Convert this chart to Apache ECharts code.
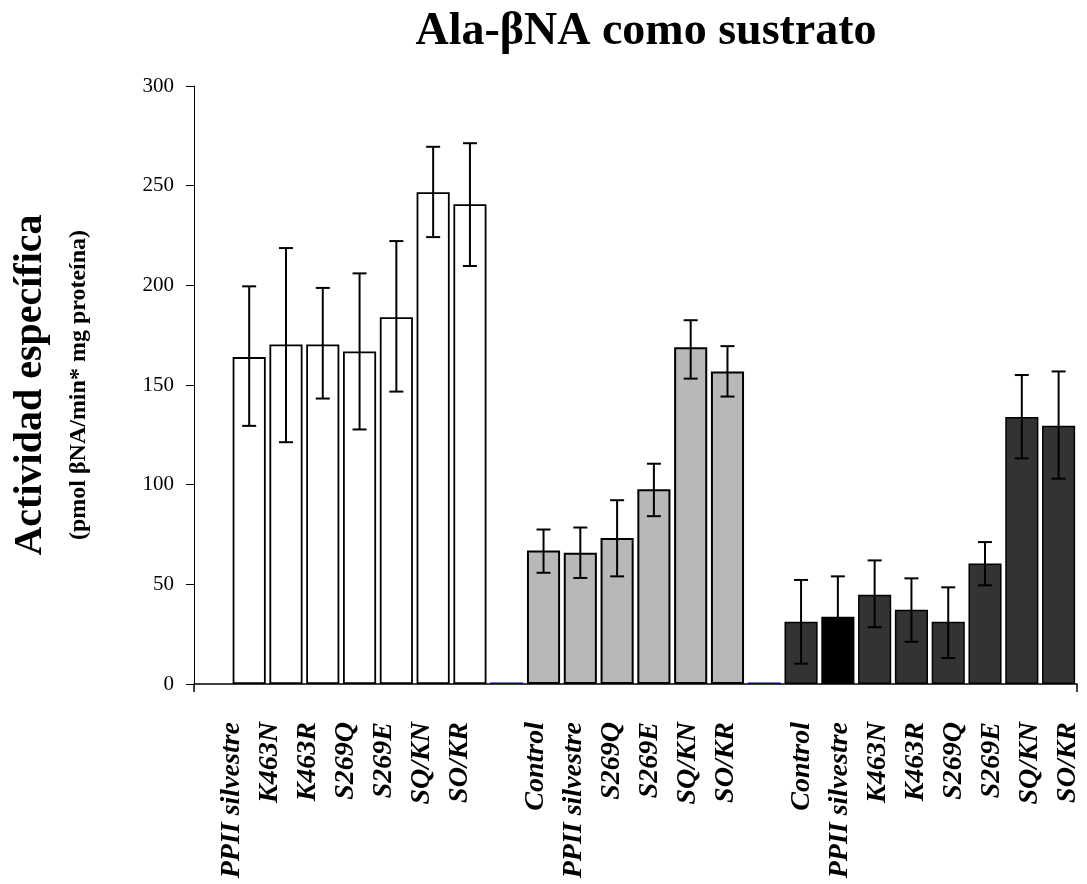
<!DOCTYPE html>
<html>
<head>
<meta charset="utf-8">
<script src="https://cdn.jsdelivr.net/npm/echarts@6/dist/echarts.min.js"></script>
<style>
  html, body { margin: 0; padding: 0; background: #fff; }
  #chart { width: 1087px; height: 884px; }
</style>
</head>
<body>
<div id="chart"></div>
<script>
// group 1: white bars
const group1Labels = ["PPII silvestre", "K463N", "K463R", "S269Q", "S269E", "SQ/KN", "SO/KR"];
const group1Mean = [164, 170.3, 170.3, 166.8, 184, 246.7, 240.7];
const group1Low = [129.5, 121.3, 143.2, 127.7, 146.7, 224.2, 209.7];
const group1High = [199.5, 218.7, 198.7, 206, 222.2, 269.5, 271.3];

// group 2: grey bars
const group2Labels = ["Control", "PPII silvestre", "S269Q", "S269E", "SQ/KN", "SO/KR"];
const group2Mean = [67, 65.8, 73.2, 97.7, 169, 156.8];
const group2Low = [55.8, 53.2, 54, 84.2, 153.2, 144.2];
const group2High = [77.5, 78.5, 92.2, 110.5, 182.5, 169.5];

// group 3: dark bars
const group3Labels = ["Control", "PPII silvestre", "K463N", "K463R", "S269Q", "S269E", "SQ/KN", "SO/KR"];
const group3Mean = [31.2, 33.8, 44.8, 37.3, 31.2, 60.5, 134, 129.5];
const group3Low = [10.2, 13.6, 28.5, 21.2, 13, 49.5, 113.2, 103];
const group3High = [52.2, 54, 62, 53, 48.5, 71.2, 155, 156.8];

// tiny value plotted in the spacer slots between groups
const spacerValue = 0.8;

const yTicks = [0, 50, 100, 150, 200, 250, 300];

const FONT = "'Liberation Serif', 'Times New Roman', serif";
const BORDER = "#000";

// build the category list: empty first slot, then groups split by spacer slots
const categories = [""].concat(group1Labels, [""], group2Labels, [""], group3Labels);

const barData = [];
const errData = [];

function pushGroup(labels, mean, low, high, styleFor) {
  labels.forEach((lab, i) => {
    const idx = barData.length;
    barData.push({ value: mean[i], itemStyle: styleFor(lab, i) });
    errData.push([idx, low[i], high[i]]);
  });
}

function pushSpacer() {
  barData.push({ value: spacerValue, itemStyle: { color: "#000080", borderWidth: 0 } });
}

barData.push({ value: null });
pushGroup(group1Labels, group1Mean, group1Low, group1High, () => ({
  color: "#fff", borderColor: BORDER, borderWidth: 1.8,
}));
pushSpacer();
pushGroup(group2Labels, group2Mean, group2Low, group2High, () => ({
  color: "#b8b8b8", borderColor: BORDER, borderWidth: 2,
}));
pushSpacer();
pushGroup(group3Labels, group3Mean, group3Low, group3High, (lab) => ({
  color: lab === "PPII silvestre" ? "#000" : "#333333", borderColor: BORDER, borderWidth: 1.5,
}));

const chart = echarts.init(document.getElementById("chart"), null, { renderer: "canvas" });

const option = {
  backgroundColor: "#fff",
  animation: false,
  title: {
    text: "Ala-βNA como sustrato",
    left: 641,
    top: 4,
    textAlign: "center",
    textStyle: { fontFamily: FONT, fontSize: 46, fontWeight: "bold", color: "#000" },
  },
  grid: [
    { left: 194, right: 10, top: 86, bottom: 200 },
    // label band: tick labels sit on a slightly wider spacing than the bars
    { left: 213, width: 878, top: 86, bottom: 200 },
  ],
  xAxis: [
    {
      type: "category",
      gridIndex: 0,
      data: categories,
      axisLine: { lineStyle: { color: "#000", width: 1.5 } },
      axisTick: {
        show: true,
        inside: false,
        length: 8,
        interval: (i) => i === 0,
        lineStyle: { color: "#000", width: 1.5 },
      },
      axisLabel: { show: false },
      splitLine: { show: false },
    },
    {
      type: "category",
      gridIndex: 1,
      data: categories.slice(1),
      axisLine: { show: false },
      axisTick: { show: false },
      axisLabel: {
        interval: 0,
        rotate: 90,
        margin: 38,
        fontFamily: FONT,
        fontSize: 28,
        fontWeight: "bold",
        fontStyle: "italic",
        color: "#000",
      },
    },
  ],
  yAxis: [
    {
      type: "value",
      gridIndex: 0,
      min: yTicks[0],
      max: yTicks[yTicks.length - 1],
      interval: yTicks[1] - yTicks[0],
      axisLine: { show: true, lineStyle: { color: "#000", width: 1 } },
      axisTick: { show: true, length: 8, lineStyle: { color: "#000", width: 1 } },
      splitLine: { show: false },
      axisLabel: { margin: 20, fontFamily: FONT, fontSize: 21, color: "#000" },
      name: "{a|Actividad específica}\n{b|(pmol βNA/min* mg proteína)}",
      nameLocation: "middle",
      nameRotate: 90,
      nameGap: 100,
      nameTextStyle: {
        fontFamily: FONT,
        color: "#000",
        rich: {
          a: { fontFamily: FONT, fontSize: 40, fontWeight: "bold", lineHeight: 66, color: "#000" },
          b: { fontFamily: FONT, fontSize: 24, fontWeight: "bold", lineHeight: 30, color: "#000" },
        },
      },
    },
    {
      type: "value",
      gridIndex: 1,
      min: 0,
      max: 300,
      show: false,
    },
  ],
  series: [
    {
      type: "bar",
      xAxisIndex: 0,
      yAxisIndex: 0,
      data: barData,
      barCategoryGap: "10%",
      z: 2,
    },
    {
      type: "custom",
      xAxisIndex: 0,
      yAxisIndex: 0,
      data: errData,
      z: 3,
      renderItem: (params, api) => {
        const x = api.value(0);
        const lo = api.coord([x, api.value(1)]);
        const hi = api.coord([x, api.value(2)]);
        const half = 7;
        const style = { stroke: "#000", lineWidth: 2 };
        return {
          type: "group",
          children: [
            { type: "line", shape: { x1: lo[0], y1: lo[1], x2: hi[0], y2: hi[1] }, style },
            { type: "line", shape: { x1: hi[0] - half, y1: hi[1], x2: hi[0] + half, y2: hi[1] }, style },
            { type: "line", shape: { x1: lo[0] - half, y1: lo[1], x2: lo[0] + half, y2: lo[1] }, style },
          ],
        };
      },
    },
  ],
};

chart.setOption(option);
window.addEventListener("resize", () => chart.resize());
</script>
</body>
</html>
